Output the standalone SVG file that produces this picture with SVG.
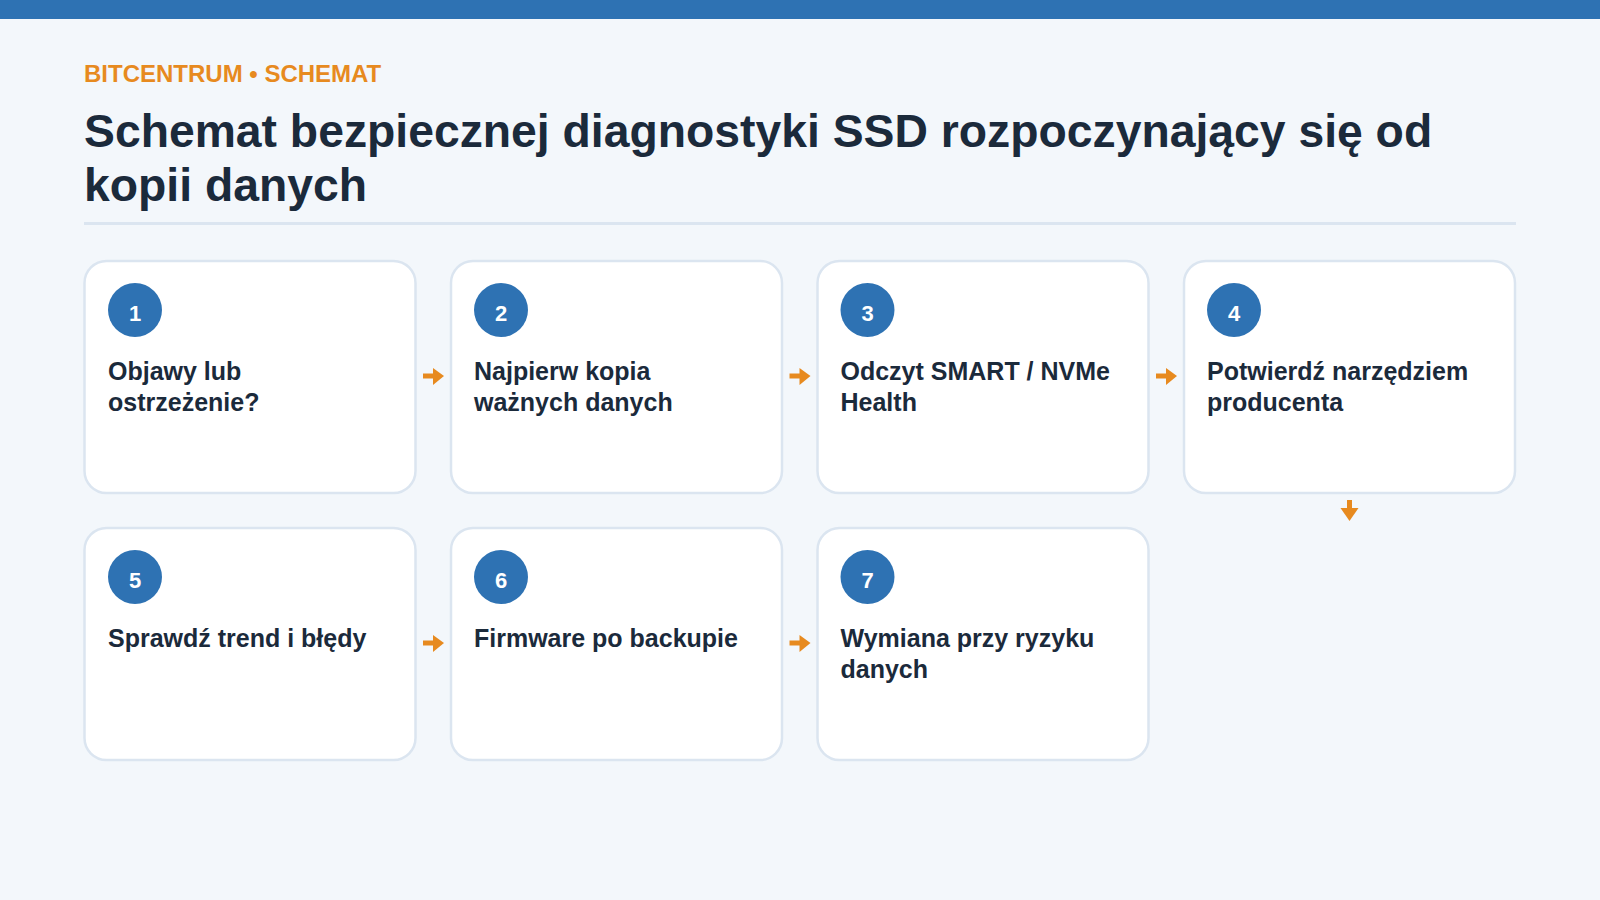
<svg xmlns="http://www.w3.org/2000/svg" width="1600" height="900" viewBox="0 0 1600 900">
<style>
.card{fill:#ffffff;stroke:#dbe5f0;stroke-width:2.5}
.num{fill:#2e72b3}
.numt{font-family:"Liberation Sans",Arial,sans-serif;font-weight:700;font-size:22px;fill:#ffffff;text-anchor:middle}
.lbl{font-family:"Liberation Sans",Arial,sans-serif;font-weight:700;font-size:25px;fill:#1b2a3b}
.conn line{stroke:#e78a1f;stroke-width:5}
.conn path{fill:#e78a1f}
</style>
<rect x="0" y="0" width="1600" height="900" fill="#f3f7fb"/>
<rect x="0" y="0" width="1600" height="19" fill="#2e72b3"/>
<text x="84" y="82" font-family="Liberation Sans, Arial, sans-serif" font-weight="700" font-size="24" fill="#e78a1f">BITCENTRUM • SCHEMAT</text>
<text font-family="Liberation Sans, Arial, sans-serif" font-weight="700" font-size="46.3" fill="#1b2a3b"><tspan x="84" y="147">Schemat bezpiecznej diagnostyki SSD rozpoczynający się od</tspan><tspan x="84" y="201">kopii danych</tspan></text>
<rect x="84" y="222" width="1432" height="3" fill="#dbe5f0"/>

<g id="node1"><rect class="card" x="84.5" y="261" width="331" height="232" rx="22"/><circle class="num" cx="135" cy="310" r="27"/><text class="numt" x="135" y="321">1</text><text class="lbl"><tspan x="108" y="380">Objawy lub</tspan><tspan x="108" y="411">ostrzeżenie?</tspan></text></g>
<g id="node2"><rect class="card" x="451" y="261" width="331" height="232" rx="22"/><circle class="num" cx="501" cy="310" r="27"/><text class="numt" x="501" y="321">2</text><text class="lbl"><tspan x="474" y="380">Najpierw kopia</tspan><tspan x="474" y="411">ważnych danych</tspan></text></g>
<g id="node3"><rect class="card" x="817.5" y="261" width="331" height="232" rx="22"/><circle class="num" cx="867.5" cy="310" r="27"/><text class="numt" x="867.5" y="321">3</text><text class="lbl"><tspan x="840.5" y="380">Odczyt SMART / NVMe</tspan><tspan x="840.5" y="411">Health</tspan></text></g>
<g id="node4"><rect class="card" x="1184" y="261" width="331" height="232" rx="22"/><circle class="num" cx="1234" cy="310" r="27"/><text class="numt" x="1234" y="321">4</text><text class="lbl"><tspan x="1207" y="380">Potwierdź narzędziem</tspan><tspan x="1207" y="411">producenta</tspan></text></g>
<g id="node5"><rect class="card" x="84.5" y="528" width="331" height="232" rx="22"/><circle class="num" cx="135" cy="577" r="27"/><text class="numt" x="135" y="588">5</text><text class="lbl"><tspan x="108" y="647">Sprawdź trend i błędy</tspan></text></g>
<g id="node6"><rect class="card" x="451" y="528" width="331" height="232" rx="22"/><circle class="num" cx="501" cy="577" r="27"/><text class="numt" x="501" y="588">6</text><text class="lbl"><tspan x="474" y="647">Firmware po backupie</tspan></text></g>
<g id="node7"><rect class="card" x="817.5" y="528" width="331" height="232" rx="22"/><circle class="num" cx="867.5" cy="577" r="27"/><text class="numt" x="867.5" y="588">7</text><text class="lbl"><tspan x="840.5" y="647">Wymiana przy ryzyku</tspan><tspan x="840.5" y="678">danych</tspan></text></g>

<g id="connectors" class="conn">
<line x1="423" y1="376" x2="434" y2="376"/><path d="M433 368 L444 376 L433 385 Z"/>
<line x1="789.5" y1="376" x2="800.5" y2="376"/><path d="M799.5 368 L810.5 376 L799.5 385 Z"/>
<line x1="1156" y1="376" x2="1167" y2="376"/><path d="M1166 368 L1177 376 L1166 385 Z"/>
<line x1="1349.5" y1="500" x2="1349.5" y2="510"/><path d="M1340.5 508 L1358.5 508 L1349.5 521 Z"/>
<line x1="423" y1="643" x2="434" y2="643"/><path d="M433 635 L444 643 L433 652 Z"/>
<line x1="789.5" y1="643" x2="800.5" y2="643"/><path d="M799.5 635 L810.5 643 L799.5 652 Z"/>
</g>
</svg>
